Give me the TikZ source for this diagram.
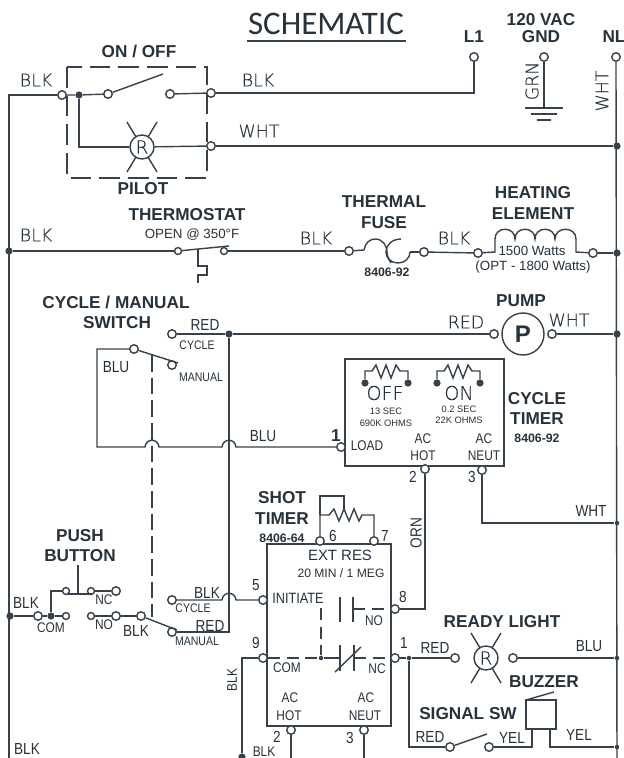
\documentclass[tikz,border=0pt]{standalone}
\usepackage{fontspec}
\setmainfont{Liberation Sans}
\newfontfamily\titlef{Carlito}
\newfontfamily\condf[FakeStretch=0.85]{Liberation Sans}
\IfFontExistsTF{DejaVu Sans ExtraLight}{\newfontfamily\cadf[FakeBold=0.35]{DejaVu Sans ExtraLight}}{\newfontfamily\cadf{Liberation Sans}}
\definecolor{ink}{HTML}{26323C}
\definecolor{wire}{HTML}{36414B}
\newcounter{lbl}
\newcommand\T[4]{\stepcounter{lbl}\node[#1] (lbl\arabic{lbl}) at (#2,#3) {#4};}
\newcommand\lampnode[3]{%
  \node[lamp] (#1) at (#2,#3) {R};
  \draw[wirel,shift={(#2,#3)}] (-15,-25) -- (-6,-10) (15,-25) -- (6,-10) (-15,25) -- (-6,10) (15,25) -- (6,10);}
\tikzset{
  x=0.75pt,y=-0.75pt,
  wirel/.style={draw=wire,line width=1.05pt},
  heavy/.style={draw=wire,line width=1.4pt},
  dashl/.style={draw=wire,line width=1.05pt,dash pattern=on 15.5pt off 6pt},
  dashv/.style={draw=wire,line width=1.05pt,dash pattern=on 12.5pt off 4.5pt},
  dashs/.style={draw=wire,line width=1.05pt,dash pattern=on 9pt off 5pt},
  term/.style={circle,draw=wire,line width=1.05pt,fill=white,inner sep=0pt,minimum size=6.4pt},
  tsm/.style={term,minimum size=5.2pt},
  dot/.style={circle,fill=wire,inner sep=0pt,minimum size=5.4pt},
  sdot/.style={circle,fill=wire,inner sep=0pt,minimum size=3.4pt},
  lamp/.style={circle,draw=wire,line width=1.05pt,fill=white,inner sep=0pt,minimum size=18pt,text=ink,font=\cadf\fontsize{13.5}{14}\selectfont},
  bl/.style={text=ink,inner sep=0pt,font=\bfseries\fontsize{12.9}{14}\selectfont},
  bs/.style={text=ink,inner sep=0pt,font=\bfseries\fontsize{9.2}{10}\selectfont},
  cad/.style={text=ink,inner sep=0pt,font=\cadf\fontsize{13}{14}\selectfont},
  cn/.style={text=ink,inner sep=0pt,font=\condf\fontsize{12}{13}\selectfont},
  cns/.style={text=ink,inner sep=0pt,font=\condf\fontsize{10.5}{11}\selectfont},
  cnt/.style={text=ink,inner sep=0pt,font=\condf\fontsize{9.3}{10}\selectfont},
  sm/.style={text=ink,inner sep=0pt,font=\fontsize{10}{11}\selectfont},
  smb/.style={text=ink,inner sep=0pt,font=\fontsize{9.1}{10}\selectfont},
  ext/.style={text=ink,inner sep=0pt,font=\fontsize{11.2}{12}\selectfont},
  tiny/.style={text=ink,inner sep=0pt,font=\fontsize{7}{8}\selectfont},
  boxl/.style={draw=wire,line width=1.05pt,inner sep=0pt,fill=white},
}
\begin{document}
\begin{tikzpicture}
\useasboundingbox (0,0) rectangle (624,758);
\fill[white] (0,0) rectangle (624,758);

% boxes
\draw[dashl] (67,67) rectangle (207,178);
\node[boxl,minimum width=119.25pt,minimum height=80.25pt] (ctimer) at (424.5,412.5) {};
\node[boxl,minimum width=93pt,minimum height=136.5pt] (stimer) at (329,635) {};

% rail coordinates
\coordinate (botL) at (9,770);
\coordinate (botN) at (617,770);
\coordinate (b2) at (291,770);
\coordinate (b3) at (364,770);

% terminals: top
\node[term] (inL) at (62,95) {};
\node[dot] (jA) at (79,95) {};
\node[term] (sw1) at (108,94) {};
\node[term] (sw2) at (170,94) {};
\node[term] (outB) at (211,93) {};
\node[term] (outW) at (211,146) {};
\node[term] (L1) at (474,57) {};
\node[term] (GNDt) at (544,57) {};
\node[term] (NL) at (616,57) {};
\node[dot] (jW) at (617,146) {};
\lampnode{pilot}{142}{147}
\coordinate (gndb) at (544,108);

% heater row
\node[dot] (jH) at (9,251) {};
\node[tsm] (th1) at (178,251) {};
\node[tsm] (th2) at (224,251) {};
\node[term] (fa) at (349,251) {};
\node[term] (fb) at (424,252) {};
\node[term] (ha) at (478,253) {};
\node[term] (hb) at (593,253) {};
\node[dot] (jH2) at (617,253) {};
\coordinate (fuseL) at (364,250);
\coordinate (fuseR) at (410,252);

% pump row
\node[term] (cy) at (172,334) {};
\node[dot] (jR) at (229,334) {};
\node[term] (pa) at (494,334) {};
\node[circle,draw=wire,line width=1.05pt,inner sep=0pt,minimum size=31.5pt,text=ink,font=\bfseries\fontsize{18}{18}\selectfont] (pump) at (523,334) {P};
\node[term] (pb) at (552,334) {};
\node[dot] (jP) at (617,334) {};
\node[term] (com1) at (134,349) {};
\node[term] (man1) at (172,365) {};
\coordinate (bluCorner) at (97,447);
\node[term] (load) at (341,447) {};

% cycle timer terminals
\node[term] (ct2) at (425,469) {};
\node[term] (ct3) at (482,470) {};
\node[sdot] (jWt) at (617,523) {};

% shot timer terminals
\node[term] (s5) at (263,600) {};
\node[term] (s9) at (263,658) {};
\node[term] (s8) at (395,609) {};
\node[term] (s1) at (395,658) {};
\node[term] (s6) at (320,541) {};
\node[term] (s7) at (374,541) {};
\node[term] (s2) at (291,730) {};
\node[term] (s3) at (364,730) {};
\node[dot] (jB) at (242,757) {};
\node[sdot] (jI) at (321,658) {};

% cycle/manual lower
\node[term] (cy2) at (172,600) {};
\node[term] (man2) at (172,632) {};
\node[term] (com2) at (141,616) {};

% push button
\node[dot] (jPB) at (10,616) {};
\node[term] (pb0) at (38,616) {};
\node[dot] (pb1) at (51,616) {};
\node[tsm] (pb2) at (66,616) {};
\node[tsm] (pb3) at (66,591) {};
\node[tsm] (pb4) at (91,591) {};
\node[term] (pb5) at (116,591) {};
\node[tsm] (pb6) at (91,616) {};
\node[term] (pb7) at (116,616) {};

% ready light row
\node[sdot] (j1) at (409,658) {};
\node[term] (ra) at (455,658) {};
\lampnode{ready}{486}{658}
\node[term] (rb) at (513,658) {};
\node[sdot] (jBl) at (617,658) {};
\node[term] (sg1) at (450,747) {};
\node[term] (sg2) at (489,747) {};
\node[boxl,minimum width=22.5pt,minimum height=21.75pt] (buzz) at (541,714.5) {};
\node[sdot] (jY) at (617,747) {};

% wires: top
\draw[wirel] (inL) -| (botL);
\draw[wirel] (inL) -- (jA) -- (sw1);
\draw[wirel] (sw1) -- (163,74);
\draw[wirel] (sw2) -- (outB);
\draw[wirel] (outB) -| (L1);
\draw[wirel] (jA) |- (pilot);
\draw[wirel] (pilot) -- (outW);
\draw[wirel] (outW) -- (jW);
\draw[wirel] (NL) -- (botN);
\draw[wirel] (GNDt) -- (gndb);
\draw[wirel] (525,108) -- (563,108) (531,114) -- (557,114) (537,120) -- (551,120);

% heater row
\draw[wirel] (jH) -- (th1);
\draw[wirel] (th1) -- (229,246);
\draw[wirel] (198,249) -- (198,266) -- (207,266) -- (207,275) -- (198,275) -- (198,283);
\draw[wirel] (th2) -- (fa);
\draw[wirel] (fa) -- (fuseL);
\draw[wirel] (fuseL) .. controls (365,243) and (370,239) .. (375,239) .. controls (383,239) and (387,246) .. (387,252) .. controls (387,256) and (389,260) .. (391,263);
\draw[wirel] (401,239) .. controls (392,239) and (386,245) .. (386,252) .. controls (386,258) and (391,263) .. (398,263) .. controls (405,263) and (410,258) .. (fuseR);
\draw[wirel] (fuseR) -- (fb);
\draw[wirel] (fb) -- (ha);
\draw[wirel] (ha) -- (495,252) -- (495,239)
  .. controls (495,226) and (515,226) .. (515,239)
  .. controls (515,226) and (535,226) .. (535,239)
  .. controls (535,226) and (555,226) .. (555,239)
  .. controls (555,226) and (576,226) .. (576,239)
  -- (576,252) -- (hb);
\draw[wirel] (hb) -- (jH2);

% pump row
\draw[wirel] (cy) -- (jR);
\draw[wirel] (jR) -- (pa);
\draw[wirel] (pb) -- (jP);
\draw[wirel] (com1) -- (178,363);
\draw[dashv] (152,355) -- (152,617);
\draw[wirel] (com1) -| (bluCorner) -- (145,447)
  .. controls (146,438) and (158,438) .. (159,447) -- (222,447)
  .. controls (223,438) and (235,438) .. (236,447) -- (load);
\draw[wirel] (jR) |- (man2);

% cycle timer
\node[dot] (r1a) at (365,383) {};
\node[dot] (r1b) at (408,383) {};
\node[dot] (r2a) at (437,383) {};
\node[dot] (r2b) at (480,383) {};
\draw[wirel] (r1a) |- (372,371) -- (376,365) -- (381,378) -- (386,365) -- (391,378) -- (396,365) -- (400,371) -| (r1b);
\draw[wirel] (r2a) |- (444,371) -- (448,365) -- (453,378) -- (458,365) -- (463,378) -- (468,365) -- (472,371) -| (r2b);
\draw[wirel] (ct2) |- (s8);
\draw[wirel] (ct3) |- (jWt);

% shot timer
\draw[wirel] (s6) |- (329,515) -- (334,509) -- (339,521) -- (344,509) -- (349,521) -- (354,509) -- (359,521) -- (362,515) -| (s7);
\draw[wirel] (320,515) |- (344,496) -- (344,509);
\draw[wirel] (cy2) -- (222,600) .. controls (223,591) and (235,591) .. (236,600) -- (s5);
\draw[wirel] (s9) -| (jB);
\draw[wirel] (s2) -- (b2);
\draw[wirel] (s3) -- (b3);
\draw[wirel] (340,597) -- (340,622) (353,597) -- (353,622);
\draw[dashs] (353,609) -- (s8);
\draw[dashs] (321,608) -- (jI);
\draw[dashs] (s9) -- (jI);
\draw[wirel] (jI) -- (340,658);
\draw[wirel] (340,645) -- (340,671) (354,645) -- (354,671);
\draw[wirel] (335,672) -- (361,647);
\draw[dashs] (354,658) -- (s1);

% push button
\draw[heavy] (jPB) -- (pb0) -- (pb1);
\draw[wirel] (pb1) -- (pb2);
\draw[heavy] (pb1) |- (pb3);
\draw[wirel] (68,594) -- (92,594);
\draw[wirel] (78,565) -- (78,594);
\draw[wirel] (pb4) -- (pb5);
\draw[wirel] (pb6) -- (pb7);
\draw[wirel] (pb7) -- (com2);
\draw[wirel] (com2) -- (177,630);

% ready / buzzer
\draw[wirel] (s1) -- (j1) -- (ra);
\draw[wirel] (rb) -- (jBl);
\draw[wirel] (j1) |- (sg1);
\draw[wirel] (sg1) -- (487,734);
\draw[wirel] (sg2) -| (532,729.5);
\draw[wirel] (550,729.5) |- (jY);
\draw[wirel] (526,700) -- (554,692);

% text
\node[text=ink,inner sep=0pt,font=\titlef\fontsize{24.7}{25}\selectfont] (title) at (326,24) {SCHEMATIC};
\draw[wirel] (247,41) -- (406,41);
\T{bl}{139}{51}{ON / OFF}
\T{bl}{143}{189}{PILOT}
\T{bl}{187}{215}{THERMOSTAT}
\T{sm}{192}{235}{OPEN @ 350°F}
\T{bl}{474}{37}{L1}
\T{bl}{541}{20}{120 VAC}
\T{bl}{541}{37}{GND}
\T{bl}{614}{37}{NL}
\T{bl}{384}{202}{THERMAL}
\T{bl}{384}{223}{FUSE}
\T{bs}{387}{272}{8406-92}
\T{bl}{533}{193}{HEATING}
\T{bl}{533}{214}{ELEMENT}
\T{sm}{532}{251}{1500 Watts}
\T{sm}{533}{267}{(OPT - 1800 Watts)}
\T{cad}{36}{80}{BLK}
\T{cad}{258}{80}{BLK}
\T{cad}{259}{131}{WHT}
\T{cad}{36}{235}{BLK}
\T{cad}{316}{238}{BLK}
\T{cad}{454}{238}{BLK}
\T{cad,rotate=90}{532}{81}{GRN}
\T{cad,rotate=90}{602}{91}{WHT}
\T{bl}{116}{302}{CYCLE / MANUAL}
\T{bl}{117}{323}{SWITCH}
\T{cn}{205}{325}{RED}
\T{cnt}{197}{345}{CYCLE}
\T{cnt}{201}{377}{MANUAL}
\T{cn}{116}{367}{BLU}
\T{cn}{263}{436}{BLU}
\T{bl}{521}{301}{PUMP}
\T{cad}{466}{322}{RED}
\T{cad}{569}{320}{WHT}
\node[text=ink,inner sep=0pt,font=\cadf\fontsize{14.3}{15}\selectfont] (offL) at (385,393) {OFF};
\node[text=ink,inner sep=0pt,font=\cadf\fontsize{14.3}{15}\selectfont] (onL) at (459,393) {ON};
\T{tiny}{386}{411}{13 SEC}
\T{tiny}{386}{423}{690K OHMS}
\T{tiny}{459}{409}{0.2 SEC}
\T{tiny}{459}{420}{22K OHMS}
\T{bl}{336}{436}{1}
\T{cns}{367}{446}{LOAD}
\T{cns}{423}{439}{AC}
\T{cns}{423}{456}{HOT}
\T{cns}{484}{439}{AC}
\T{cns}{484}{456}{NEUT}
\T{cn}{413}{477}{2}
\T{cn}{472}{477}{3}
\T{bl}{537}{399}{CYCLE}
\T{bl}{537}{419}{TIMER}
\T{bs}{537}{438}{8406-92}
\T{cn}{591}{511}{WHT}
\T{cn,rotate=90}{416}{533}{ORN}
\T{bl}{282}{498}{SHOT}
\T{bl}{282}{519}{TIMER}
\T{bs}{282}{538}{8406-64}
\T{cn}{333}{536}{6}
\T{cn}{385}{536}{7}
\T{ext}{340}{555}{EXT RES}
\T{smb}{341}{573}{20 MIN / 1 MEG}
\T{cns,font=\condf\fontsize{11.2}{12}\selectfont}{298}{598}{INITIATE}
\T{cn}{256}{585}{5}
\T{cn}{256}{643}{9}
\T{cn}{403}{597}{8}
\T{cn}{404}{643}{1}
\T{cns}{374}{621}{NO}
\T{cns}{377}{669}{NC}
\T{cns}{287}{668}{COM}
\T{cns}{290}{698}{AC}
\T{cns}{289}{716}{HOT}
\T{cns}{366}{698}{AC}
\T{cns}{365}{716}{NEUT}
\T{cn}{277}{737}{2}
\T{cn}{350}{738}{3}
\T{cns}{264}{752}{BLK}
\T{cns,rotate=90}{232}{680}{BLK}
\T{cn}{27}{749}{BLK}
\T{bl}{80}{536}{PUSH}
\T{bl}{80}{556}{BUTTON}
\T{cn}{26}{603}{BLK}
\T{cns}{51}{628}{COM}
\T{cns}{104}{600}{NC}
\T{cns}{104}{625}{NO}
\T{cn}{136}{631}{BLK}
\T{cn}{207}{593}{BLK}
\T{cnt}{193}{608}{CYCLE}
\T{cn}{210}{626}{RED}
\T{cnt}{197}{641}{MANUAL}
\T{bl}{502}{622}{READY LIGHT}
\T{cn}{435}{648}{RED}
\T{cn}{589}{646}{BLU}
\T{bl}{544}{682}{BUZZER}
\T{bl}{468}{714}{SIGNAL SW}
\T{cn}{430}{737}{RED}
\T{cn}{512}{738}{YEL}
\T{cn}{579}{735}{YEL}
\end{tikzpicture}
\end{document}
